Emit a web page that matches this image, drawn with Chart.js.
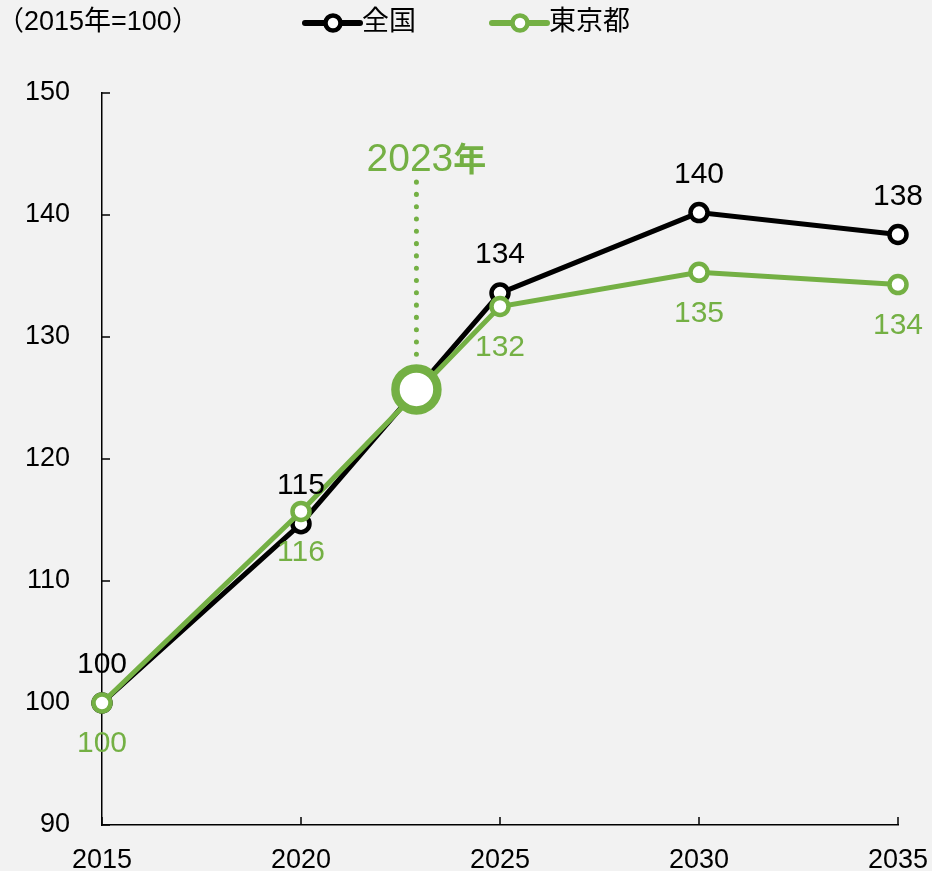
<!DOCTYPE html>
<html>
<head>
<meta charset="utf-8">
<script src="https://cdn.jsdelivr.net/npm/chart.js@4"></script>
<style>
  html, body { margin: 0; padding: 0; background: #f2f2f2; }
  canvas { display: block; }
</style>
</head>
<body>
<canvas id="chart" width="932" height="871"></canvas>
<script>
// data
var years = [2015, 2020, 2025, 2030, 2035];
var zenkoku = [100, 114.7, 133.6, 140.2, 138.4];
var tokyo = [100, 115.7, 132.5, 135.3, 134.3];
var zenkokuLabels = ['100', '115', '134', '140', '138'];
var tokyoLabels = ['100', '116', '132', '135', '134'];
var markYear = 2023;
var markX = 2022.9;
var markValue = 125.7;
var yTicks = [90, 100, 110, 120, 130, 140, 150];

var BLACK = '#000000';
var GREEN = '#74b044';
var FONT = '"Liberation Sans", Arial, "Noto Sans CJK JP", sans-serif';

function xy(xs, ys) {
  return xs.map(function (x, i) { return { x: x, y: ys[i] }; });
}

var extras = {
  id: 'extras',
  beforeDatasetsDraw: function (chart) {
    var ctx = chart.ctx;
    var xs = chart.scales.x, ys = chart.scales.y;
    var area = chart.chartArea;
    ctx.save();
    // inward tick marks
    ctx.strokeStyle = BLACK;
    ctx.lineWidth = 1.5;
    ctx.beginPath();
    yTicks.forEach(function (v) {
      var py = ys.getPixelForValue(v);
      ctx.moveTo(area.left, py);
      ctx.lineTo(area.left + 8, py);
    });
    years.forEach(function (v) {
      var px = xs.getPixelForValue(v);
      ctx.moveTo(px, area.bottom);
      ctx.lineTo(px, area.bottom - 8);
    });
    ctx.stroke();
    // dotted marker line for 2023
    var mx = xs.getPixelForValue(markX);
    ctx.strokeStyle = GREEN;
    ctx.lineWidth = 5;
    ctx.lineCap = 'round';
    ctx.setLineDash([0.1, 12.2]);
    ctx.beginPath();
    ctx.moveTo(mx, ys.getPixelForValue(142.7));
    ctx.lineTo(mx, ys.getPixelForValue(128.4));
    ctx.stroke();
    ctx.restore();
  },
  afterDatasetsDraw: function (chart) {
    var ctx = chart.ctx;
    var xs = chart.scales.x, ys = chart.scales.y;
    ctx.save();
    ctx.font = '30px ' + FONT;
    ctx.textAlign = 'center';
    ctx.textBaseline = 'middle';
    var m0 = chart.getDatasetMeta(0);
    var m1 = chart.getDatasetMeta(1);
    ctx.fillStyle = BLACK;
    m0.data.forEach(function (p, i) {
      ctx.fillText(zenkokuLabels[i], p.x, p.y - 38);
    });
    ctx.fillStyle = GREEN;
    m1.data.forEach(function (p, i) {
      ctx.fillText(tokyoLabels[i], p.x, p.y + 41);
    });
    // 2023年 label
    var mx = xs.getPixelForValue(markX) + 10;
    var my = ys.getPixelForValue(143.4);
    ctx.textBaseline = 'alphabetic';
    ctx.font = '39px ' + FONT;
    var w1 = ctx.measureText(String(markYear)).width;
    ctx.font = 'bold 33px ' + FONT;
    var w2 = ctx.measureText('年').width;
    var left = mx - (w1 + w2) / 2;
    ctx.textAlign = 'left';
    ctx.font = '39px ' + FONT;
    ctx.fillText(String(markYear), left, my - 3);
    ctx.font = 'bold 33px ' + FONT;
    ctx.fillText('年', left + w1, my - 3);
    ctx.restore();
  },
  afterDraw: function (chart) {
    var ctx = chart.ctx;
    ctx.save();
    ctx.fillStyle = BLACK;
    ctx.font = '27px ' + FONT;
    ctx.textBaseline = 'middle';
    ctx.textAlign = 'left';
    ctx.fillText('（2015年=100）', -3, 23);
    // legend
    function item(x0, color, text) {
      ctx.strokeStyle = color;
      ctx.lineWidth = 6;
      ctx.lineCap = 'round';
      ctx.beginPath();
      ctx.moveTo(x0, 23);
      ctx.lineTo(x0 + 55, 23);
      ctx.stroke();
      ctx.beginPath();
      ctx.arc(x0 + 28, 23, 7.5, 0, Math.PI * 2);
      ctx.fillStyle = '#ffffff';
      ctx.fill();
      ctx.lineWidth = 4.5;
      ctx.stroke();
      ctx.fillStyle = BLACK;
      ctx.fillText(text, x0 + 57, 23);
    }
    item(305, BLACK, '全国');
    item(492, GREEN, '東京都');
    ctx.restore();
  }
};

new Chart(document.getElementById('chart'), {
  type: 'line',
  data: {
    datasets: [
      {
        label: '全国',
        data: xy(years, zenkoku),
        borderColor: BLACK,
        borderWidth: 5,
        pointRadius: 8.5,
        pointBorderWidth: 4.5,
        pointBackgroundColor: '#ffffff',
        pointBorderColor: BLACK,
        clip: false,
        order: 2
      },
      {
        label: '東京都',
        data: xy(years, tokyo),
        borderColor: GREEN,
        borderWidth: 5,
        pointRadius: 8.5,
        pointBorderWidth: 4.5,
        pointBackgroundColor: '#ffffff',
        pointBorderColor: GREEN,
        clip: false,
        order: 1
      },
      {
        label: '2023',
        data: [{ x: markX, y: markValue }],
        showLine: false,
        pointRadius: 21,
        pointBorderWidth: 8.5,
        pointBackgroundColor: '#ffffff',
        pointBorderColor: GREEN,
        clip: false,
        order: 0
      }
    ]
  },
  options: {
    responsive: false,
    animation: false,
    layout: { padding: { top: 93, right: 34, bottom: 0, left: 0 } },
    plugins: {
      legend: { display: false },
      tooltip: { enabled: false }
    },
    scales: {
      x: {
        type: 'linear',
        min: 2015,
        max: 2035,
        afterFit: function (s) {
          s.height = 46;
          s.paddingLeft = 0;
          s.paddingRight = 0;
        },
        border: { color: BLACK, width: 1.5 },
        grid: { drawOnChartArea: false, drawTicks: false },
        ticks: {
          stepSize: 5,
          padding: 19,
          color: BLACK,
          font: { family: FONT, size: 27 },
          maxRotation: 0,
          callback: function (v) { return String(v); }
        }
      },
      y: {
        min: 90,
        max: 150,
        afterFit: function (s) {
          s.width = 102;
          s.paddingTop = 0;
          s.paddingBottom = 0;
        },
        border: { color: BLACK, width: 1.5 },
        grid: { drawOnChartArea: false, drawTicks: false },
        ticks: {
          stepSize: 10,
          padding: 32,
          color: BLACK,
          font: { family: FONT, size: 27 }
        }
      }
    }
  },
  plugins: [extras]
});
</script>
</body>
</html>
